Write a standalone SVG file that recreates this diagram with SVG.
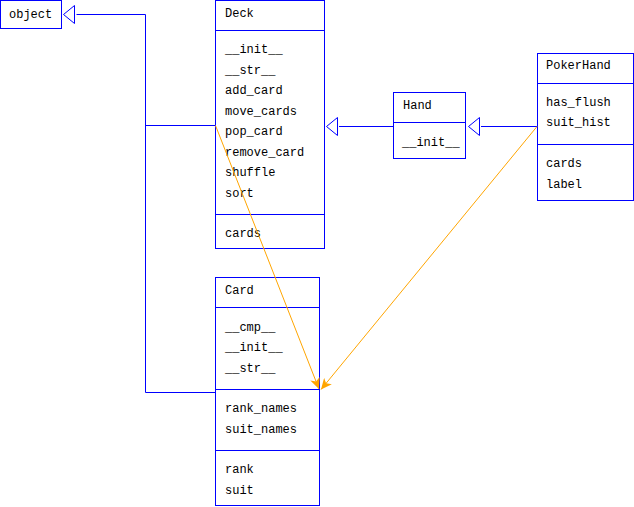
<svg xmlns="http://www.w3.org/2000/svg" width="634" height="507" viewBox="0 0 634 507">
<style>
.box{fill:#fff;stroke:#0000ff;stroke-width:1}
.div{stroke:#0000ff;stroke-width:1}
.t{font-family:"Liberation Mono","Courier New",monospace;font-size:12px;fill:#000}
.e{fill:none;stroke:#0000ff;stroke-width:1}
.tri{fill:#fff;stroke:#0000ff;stroke-width:1}
.dep{fill:none;stroke:#ffa500;stroke-width:1}
</style>
<defs>
<marker id="ah" markerWidth="12" markerHeight="10" refX="11" refY="5" orient="auto" markerUnits="userSpaceOnUse">
<path d="M0,0 L11,5 L0,10 L3,5 Z" fill="#ffa500"/>
</marker>
</defs>
<rect width="634" height="507" fill="#fff"/>
<g id="object">
<rect class="box" x="0.5" y="0.5" width="61" height="28"/>
<text class="t" x="9" y="18">object</text>
</g>
<g id="Deck">
<rect class="box" x="215.5" y="0.5" width="109" height="248"/>
<line class="div" x1="215.5" y1="30.5" x2="324.5" y2="30.5"/>
<line class="div" x1="215.5" y1="214.5" x2="324.5" y2="214.5"/>
<text class="t" x="225" y="17">Deck</text>
<text class="t" x="225" y="53">__init__</text>
<text class="t" x="225" y="73.5">__str__</text>
<text class="t" x="225" y="94">add_card</text>
<text class="t" x="225" y="114.5">move_cards</text>
<text class="t" x="225" y="135">pop_card</text>
<text class="t" x="225" y="155.5">remove_card</text>
<text class="t" x="225" y="176">shuffle</text>
<text class="t" x="225" y="196.5">sort</text>
<text class="t" x="225" y="237">cards</text>
</g>
<g id="Card">
<rect class="box" x="215.5" y="277.5" width="104" height="228"/>
<line class="div" x1="215.5" y1="307.5" x2="319.5" y2="307.5"/>
<line class="div" x1="215.5" y1="389.5" x2="319.5" y2="389.5"/>
<line class="div" x1="215.5" y1="450.5" x2="319.5" y2="450.5"/>
<text class="t" x="225" y="294">Card</text>
<text class="t" x="225" y="331">__cmp__</text>
<text class="t" x="225" y="351">__init__</text>
<text class="t" x="225" y="371.5">__str__</text>
<text class="t" x="225" y="412">rank_names</text>
<text class="t" x="225" y="433">suit_names</text>
<text class="t" x="225" y="473">rank</text>
<text class="t" x="225" y="494">suit</text>
</g>
<g id="Hand">
<rect class="box" x="393.5" y="92.5" width="72" height="66"/>
<line class="div" x1="393.5" y1="122.5" x2="465.5" y2="122.5"/>
<text class="t" x="403" y="109">Hand</text>
<text class="t" x="402" y="146">__init__</text>
</g>
<g id="PokerHand">
<rect class="box" x="537.5" y="53.5" width="96" height="147"/>
<line class="div" x1="537.5" y1="83.5" x2="633.5" y2="83.5"/>
<line class="div" x1="537.5" y1="144.5" x2="633.5" y2="144.5"/>
<text class="t" x="546" y="69">PokerHand</text>
<text class="t" x="546" y="106">has_flush</text>
<text class="t" x="546" y="126">suit_hist</text>
<text class="t" x="546" y="167">cards</text>
<text class="t" x="546" y="188">label</text>
</g>
<g id="connectors">
<path class="e" d="M76.5,14.5 H145.5 V392.5 H215"/>
<path class="e" d="M145.5,125.5 H215"/>
<polygon class="tri" points="63.5,14.5 74.5,5.5 74.5,23.5"/>
<path class="e" d="M339,126.5 H393"/>
<polygon class="tri" points="326.5,126.5 337.5,117.5 337.5,135.5"/>
<path class="e" d="M481,126.5 H537"/>
<polygon class="tri" points="468.5,126.5 479.5,117.5 479.5,135.5"/>
<line class="dep" x1="215.5" y1="125.5" x2="319" y2="389" marker-end="url(#ah)"/>
<line class="dep" x1="537" y1="126.5" x2="321" y2="389.5" marker-end="url(#ah)"/>
</g>
</svg>
